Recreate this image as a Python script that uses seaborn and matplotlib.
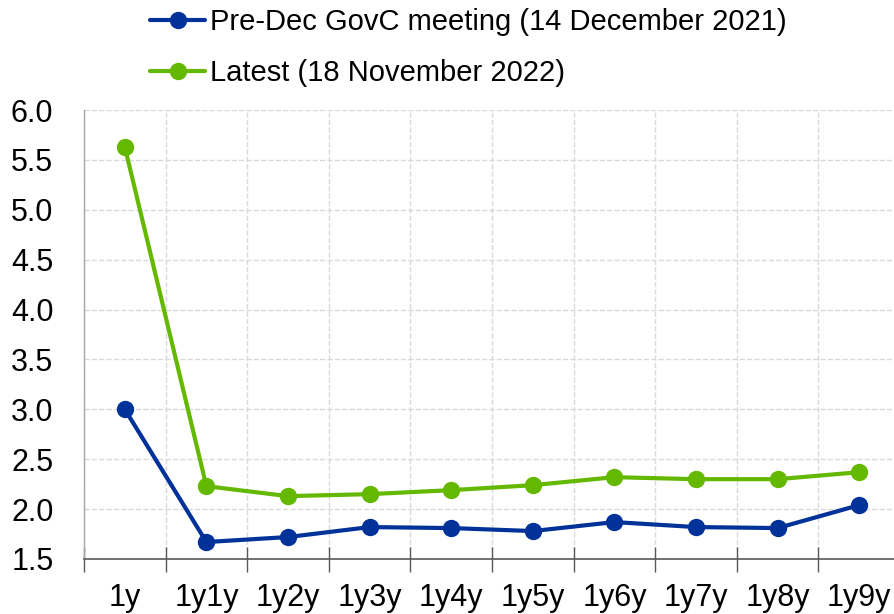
import matplotlib
matplotlib.use('Agg')
import matplotlib.pyplot as plt
import seaborn as sns
import pandas as pd
import numpy as np
from matplotlib.ticker import FixedLocator, FormatStrFormatter

# 数据
tenors = ['1y', '1y1y', '1y2y', '1y3y', '1y4y', '1y5y', '1y6y', '1y7y', '1y8y', '1y9y']
pre_dec = [3.00, 1.67, 1.72, 1.82, 1.81, 1.78, 1.87, 1.82, 1.81, 2.04]
latest = [5.63, 2.23, 2.13, 2.15, 2.19, 2.24, 2.32, 2.30, 2.30, 2.37]
series_names = ['Pre-Dec GovC meeting (14 December 2021)', 'Latest (18 November 2022)']
colors = ['#003299', '#65B800']

df = pd.DataFrame({
    'tenor': tenors * 2,
    'value': pre_dec + latest,
    'series': [series_names[0]] * len(tenors) + [series_names[1]] * len(tenors),
})

sns.set_style('white')
plt.rcParams['font.family'] = ['Liberation Sans', 'DejaVu Sans']
plt.rcParams['text.color'] = 'black'

fig = plt.figure(figsize=(8.94, 6.14), dpi=100)
ax = fig.add_axes([84 / 894, 1 - 559 / 614, 816 / 894, 449 / 614])

sns.lineplot(data=df, x='tenor', y='value', hue='series', palette=colors,
             marker='o', markersize=12.5, markeredgewidth=0, linewidth=3,
             sort=False, ax=ax)

ax.set_xlim(-0.5, len(tenors) - 0.5)
ax.set_ylim(1.5, 6.0)
ax.set_yticks(np.arange(1.5, 6.01, 0.5))
ax.yaxis.set_major_formatter(FormatStrFormatter('%.1f'))
ax.set_xlabel('')
ax.set_ylabel('')

# 分类边界处的刻度与竖直网格
ax.xaxis.set_minor_locator(FixedLocator(np.arange(-0.5, len(tenors), 1.0)))
ax.tick_params(axis='x', which='major', length=0, labelsize=22, pad=17, colors='black')
ax.tick_params(axis='x', which='minor', bottom=True, length=18, direction='inout',
               width=1, color='#595959')
ax.tick_params(axis='y', which='major', length=0, labelsize=22, pad=22, colors='black')

ax.grid(True, axis='y', which='major', linestyle='--', color='#d9d9d9', linewidth=1)
ax.grid(True, axis='x', which='minor', linestyle='--', color='#d9d9d9', linewidth=1)
ax.grid(False, axis='x', which='major')

for s in ['top', 'right']:
    ax.spines[s].set_visible(False)
ax.spines['left'].set_color('#a6a6a6')
ax.spines['bottom'].set_color('#595959')
ax.spines['left'].set_linewidth(1)
ax.spines['bottom'].set_linewidth(1.2)

handles, labels = ax.get_legend_handles_labels()
leg = ax.legend(handles, labels, loc='upper left', bbox_to_anchor=(150 / 894, 1 - 8 / 614),
                bbox_transform=fig.transFigure, frameon=False, fontsize=21,
                handlelength=1.9, handletextpad=0.17, labelspacing=0.78,
                borderpad=0, borderaxespad=0)
for t in leg.get_texts():
    t.set_color('black')

plt.savefig('out.png', dpi=100)
